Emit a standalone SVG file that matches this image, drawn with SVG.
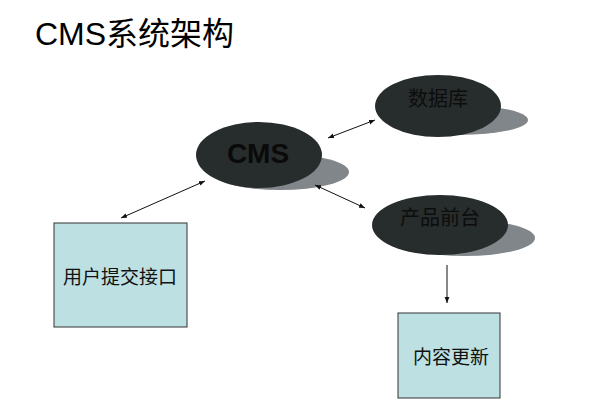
<svg xmlns="http://www.w3.org/2000/svg" width="600" height="400" viewBox="0 0 600 400">
<defs>
<style>
.title{font-family:"Liberation Sans","Noto Sans CJK SC",Arial,sans-serif;font-size:32px;fill:#000}
.main{fill:#272c2c}
.shadow{fill:#81868a}
.etext{font-family:"Noto Sans CJK SC",sans-serif;font-size:20px;fill:#0d0d0d;text-anchor:middle}
.cms{font-family:"Liberation Sans",Arial,sans-serif;font-weight:bold;font-size:28px;fill:#0a0a0a;text-anchor:middle}
.box{fill:#bde0e3;stroke:#333;stroke-width:1}
.btext{font-family:"Noto Sans CJK SC",sans-serif;font-size:19px;fill:#111;text-anchor:middle}
.conn{stroke:#111;stroke-width:1;fill:none}
</style>
<marker id="ah" viewBox="0 0 10 10" refX="10" refY="5" markerWidth="6" markerHeight="6" orient="auto-start-reverse" markerUnits="userSpaceOnUse">
<path d="M0,1 L10,5 L0,9 Z" fill="#111"/>
</marker>
</defs>
<rect width="600" height="400" fill="#fff"/>
<text class="title" x="35" y="45">CMS系统架构</text>
<g id="cms">
<ellipse class="shadow" cx="280" cy="172" rx="69" ry="18"/>
<ellipse class="main" cx="259" cy="155" rx="63" ry="33"/>
<text class="cms" x="258" y="163">CMS</text>
</g>
<g id="db">
<ellipse class="shadow" cx="460" cy="120" rx="68" ry="15"/>
<ellipse class="main" cx="438" cy="106" rx="63" ry="31"/>
<text class="etext" x="438" y="106">数据库</text>
</g>
<g id="front">
<ellipse class="shadow" cx="465" cy="238" rx="70" ry="18"/>
<ellipse class="main" cx="440" cy="225" rx="68" ry="30"/>
<text class="etext" x="440" y="225">产品前台</text>
</g>
<g id="user">
<rect class="box" x="54" y="223" width="133" height="104"/>
<text class="btext" x="120" y="284">用户提交接口</text>
</g>
<g id="update">
<rect class="box" x="398" y="313" width="102" height="85"/>
<text class="btext" x="451" y="364">内容更新</text>
</g>
<g id="connectors">
<line class="conn" x1="328" y1="138" x2="375" y2="120" marker-start="url(#ah)" marker-end="url(#ah)"/>
<line class="conn" x1="121" y1="218" x2="205" y2="181" marker-start="url(#ah)" marker-end="url(#ah)"/>
<line class="conn" x1="315" y1="185" x2="365" y2="208" marker-start="url(#ah)" marker-end="url(#ah)"/>
<line class="conn" x1="447" y1="265" x2="447" y2="303" marker-end="url(#ah)"/>
</g>
</svg>
